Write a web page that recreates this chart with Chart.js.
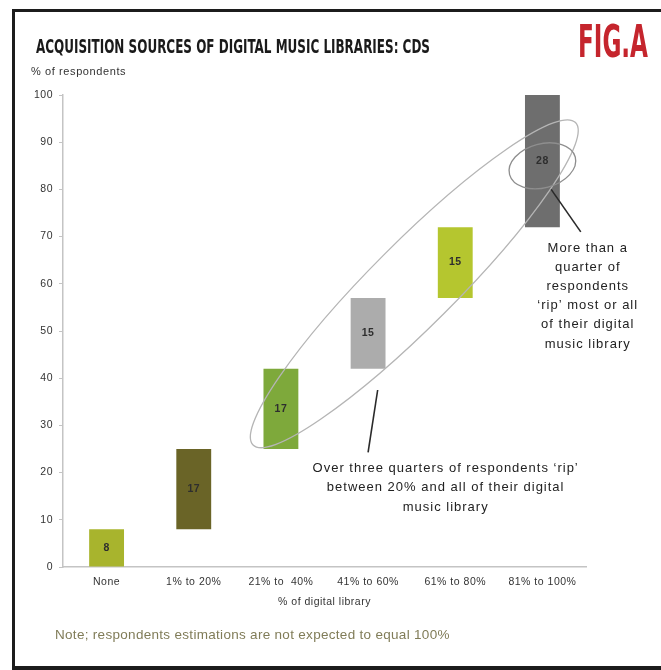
<!DOCTYPE html>
<html>
<head>
<meta charset="utf-8">
<title>Acquisition sources of digital music libraries: CDs</title>
<script src="https://cdn.jsdelivr.net/npm/chart.js@4.4.1/dist/chart.umd.min.js"></script>
<style>
  html, body { margin: 0; padding: 0; background: #fff; }
  #fig { position: relative; width: 661px; height: 670px; overflow: hidden; font-family: "Liberation Sans", Arial, sans-serif; }
  #chart { position: absolute; left: 0; top: 0; }
  .rule { position: absolute; background: #1c1c1c; }
  .squeeze { position: absolute; white-space: nowrap; line-height: 1; transform-origin: 0 0;
             font-family: "DejaVu Sans Condensed", "DejaVu Sans", sans-serif; font-weight: bold; }
  #title { left: 36px; top: 36px; font-size: 20px; color: #1a1a1a; }
  #figLabel { left: 578px; top: 20px; font-size: 44px; color: #c5252d; }
  .small { position: absolute; white-space: nowrap; line-height: 1; }
  #yTitle { left: 31px; top: 66px; font-size: 11px; color: #333; letter-spacing: .6px; }
  #note { left: 55px; top: 628px; font-size: 13.5px; color: #807c58; letter-spacing: .3px; }
</style>
</head>
<body>
<div id="fig">
  <canvas id="chart" width="661" height="670"></canvas>
  <div class="rule" style="left:12px; top:9px; width:649px; height:3px"></div>
  <div class="rule" style="left:12px; top:9px; width:3px; height:661px"></div>
  <div class="rule" style="left:12px; top:666px; width:649px; height:4px"></div>
  <div class="squeeze" id="title" data-w="394">ACQUISITION SOURCES OF DIGITAL MUSIC LIBRARIES: CDS</div>
  <div class="squeeze" id="figLabel" data-w="70">FIG.A</div>
  <div class="small" id="yTitle">% of respondents</div>
  <div class="small" id="note">Note; respondents estimations are not expected to equal 100%</div>
</div>
<script>
// share of respondents (%) by how much of their library was ripped from CD
const categories = ['None', '1% to 20%', '21% to  40%', '41% to 60%', '61% to 80%', '81% to 100%'];
const shares = [8, 17, 17, 15, 15, 28];
const barColors = ['#a8b42d', '#6a6427', '#7ea93b', '#acacac', '#b5c62f', '#6e6e6e'];
const yTicks = [0, 10, 20, 30, 40, 50, 60, 70, 80, 90, 100];

// stacked "waterfall" ranges: each bar starts where the previous one ended
let runningTotal = 0;
const ranges = shares.map((v) => {
    const r = [runningTotal, runningTotal + v];
    runningTotal += v;
    return r;
});

// condensed headline type: squash the bold face to its set width
document.querySelectorAll('.squeeze').forEach((el) => {
    const w = el.getBoundingClientRect().width;
    el.style.transform = `scaleX(${el.dataset.w / w})`;
});

Chart.defaults.font.family = '"Liberation Sans", Arial, sans-serif';

const spacing = {
    id: 'spacing',
    beforeUpdate(chart) { chart.ctx.letterSpacing = '0.5px'; },
};

const barValues = {
    id: 'barValues',
    afterDatasetsDraw(chart) {
        const { ctx } = chart;
        const meta = chart.getDatasetMeta(0);
        ctx.save();
        ctx.font = 'bold 10.5px "Liberation Sans", Arial, sans-serif';
        ctx.fillStyle = '#2e2e2e';
        ctx.textAlign = 'center';
        ctx.textBaseline = 'middle';
        meta.data.forEach((bar, i) => {
            ctx.fillText(String(shares[i]), bar.x, (bar.y + bar.base) / 2);
        });
        ctx.restore();
    },
};

// rings, pointers and commentary, anchored in (category index, value) units
const rings = [
    { at: [3.53, 60], rx: 228, ry: 42, tilt: -45, color: '#b5b5b5' },
    { at: [5.0, 85], rx: 34, ry: 22, tilt: -15, color: '#8e8e8e' },
];
const pointers = [
    [[5.1, 80], [5.44, 71]],
    [[3.11, 37.5], [3.0, 24.3]],
];
const remarks = [
    { at: [5.52, 67.6], lines: ['More than a', 'quarter of', 'respondents', '\u2018rip\u2019 most or all', 'of their digital', 'music library'], lh: 19.2 },
    { at: [3.89, 20.9], lines: ['Over three quarters of respondents \u2018rip\u2019', 'between 20% and all of their digital', 'music library'], lh: 19.5 },
];

const callouts = {
    id: 'callouts',
    afterDraw(chart) {
        const { ctx } = chart;
        const x = chart.scales.x, y = chart.scales.y;
        const px = (p) => [x.getPixelForValue(p[0]), y.getPixelForValue(p[1])];
        ctx.save();
        ctx.lineWidth = 1.3;
        rings.forEach((r) => {
            const [cx, cy] = px(r.at);
            ctx.strokeStyle = r.color;
            ctx.beginPath();
            ctx.ellipse(cx, cy, r.rx, r.ry, r.tilt * Math.PI / 180, 0, Math.PI * 2);
            ctx.stroke();
        });
        ctx.strokeStyle = '#2a2a2a';
        ctx.lineWidth = 1.6;
        pointers.forEach(([a, b]) => {
            const p1 = px(a), p2 = px(b);
            ctx.beginPath();
            ctx.moveTo(p1[0], p1[1]);
            ctx.lineTo(p2[0], p2[1]);
            ctx.stroke();
        });
        ctx.font = '13px "Liberation Sans", Arial, sans-serif';
        ctx.letterSpacing = '1px';
        ctx.fillStyle = '#222';
        ctx.textAlign = 'center';
        ctx.textBaseline = 'middle';
        remarks.forEach((r) => {
            const [cx, cy] = px(r.at);
            r.lines.forEach((t, i) => ctx.fillText(t, cx, cy + i * r.lh));
        });
        ctx.restore();
    },
};

new Chart(document.getElementById('chart').getContext('2d'), {
    type: 'bar',
    data: {
        labels: categories,
        datasets: [{
            data: ranges,
            backgroundColor: barColors,
            borderWidth: 0,
            barPercentage: 0.4,
            categoryPercentage: 1,
        }],
    },
    options: {
        responsive: false,
        animation: false,
        layout: { padding: { left: 15, right: 75, top: 95, bottom: 53 } },
        plugins: {
            legend: { display: false },
            tooltip: { enabled: false },
        },
        scales: {
            x: {
                grid: { display: false, drawTicks: false },
                border: { display: true, color: '#c4c4c4', width: 1.5 },
                ticks: { color: '#333', font: { size: 10.5 }, padding: 9, maxRotation: 0, autoSkip: false },
                title: { display: true, text: '% of digital library', color: '#333', font: { size: 10.5 }, padding: { top: 0, bottom: 9 } },
                afterFit: (s) => { s.height = 50; },
            },
            y: {
                min: 0,
                max: 100,
                afterBuildTicks: (s) => { s.ticks = yTicks.map((v) => ({ value: v })); },
                ticks: { color: '#333', font: { size: 10.5 }, padding: 6 },
                grid: { drawOnChartArea: false, drawTicks: true, tickLength: 4, color: '#c4c4c4' },
                border: { color: '#c4c4c4', width: 1.5 },
                afterFit: (s) => { s.width = 48; },
            },
        },
    },
    plugins: [spacing, barValues, callouts],
});
</script>
</body>
</html>
